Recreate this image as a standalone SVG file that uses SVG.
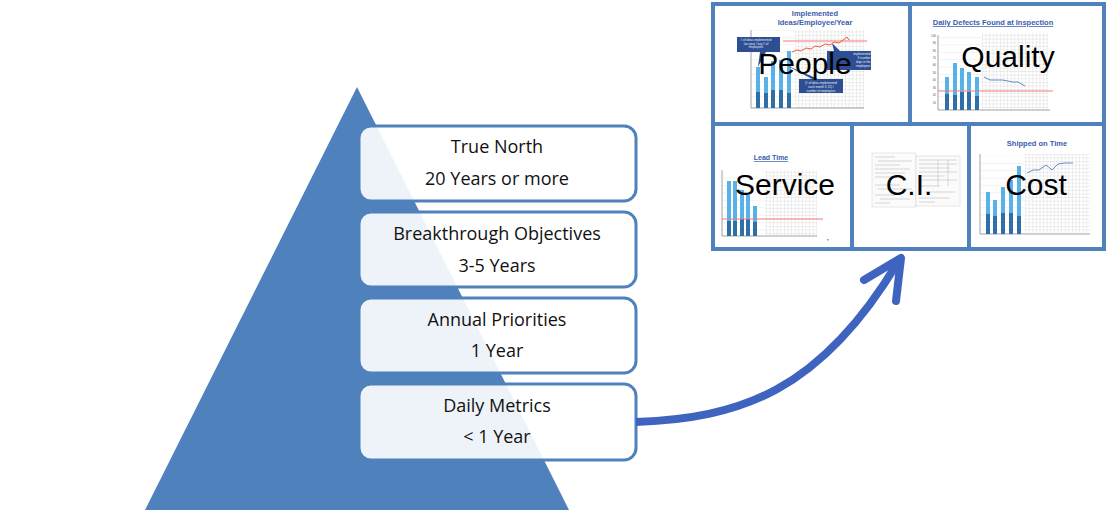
<svg xmlns="http://www.w3.org/2000/svg" width="1107" height="514" viewBox="0 0 1107 514">
<defs>
<pattern id="grid" width="3.6" height="3.6" patternUnits="userSpaceOnUse">
<path d="M3.6 0V3.6M0 3.6H3.6" fill="none" stroke="#c9c9c9" stroke-width="0.6"/>
</pattern>
<pattern id="hgrid" width="10" height="7.4" patternUnits="userSpaceOnUse">
<path d="M0 0H10" fill="none" stroke="#d4d4d4" stroke-width="0.6"/>
</pattern>
</defs>
<style>
.box{fill:#ffffff;fill-opacity:0.9;stroke:#4F81BD;stroke-width:3}
.lbl{font-family:"Open Sans","Liberation Sans",sans-serif;font-size:18px;fill:#111;text-anchor:middle}
.big{font-family:"Liberation Sans",Arial,sans-serif;font-size:30px;fill:#000;text-anchor:middle}
.ttl{font-family:"Liberation Sans",Arial,sans-serif;font-weight:bold;fill:#3A5CAD;text-anchor:middle}
.bar{fill:#58B2EA}
.dk{fill:#2F6EA6}
.ax{stroke:#8a8a8a;stroke-width:0.8;fill:none}
.red{stroke:#F07A7A;stroke-width:1.2;fill:none}
.trend{stroke:#4F7FC0;stroke-width:0.9;fill:none}
.call{fill:#2D4E92}
.ctx{font-family:"Liberation Sans",Arial,sans-serif;font-size:3px;fill:#e8eef8;text-anchor:middle}
.ctxr{font-family:"Liberation Sans",Arial,sans-serif;font-size:3px;fill:#e8eef8;text-anchor:end}
.tick{font-family:"Liberation Sans",Arial,sans-serif;font-size:3px;fill:#555;text-anchor:end}
.frame{stroke:#4F81BD;stroke-width:4;fill:none}
.form{stroke:#bdbdbd;stroke-width:0.6;fill:none}
</style>

<g id="pyramid">
<polygon points="357,87 145,510 569,510" fill="#4F81BD"/>
</g>

<g id="level-true-north">
<rect class="box" x="359" y="126" width="277" height="75" rx="12"/>
<text class="lbl" x="497" y="153">True North</text>
<text class="lbl" x="497" y="185">20 Years or more</text>
</g>
<g id="level-breakthrough">
<rect class="box" x="359" y="212" width="277" height="75" rx="12"/>
<text class="lbl" x="497" y="240">Breakthrough Objectives</text>
<text class="lbl" x="497" y="272">3-5 Years</text>
</g>
<g id="level-annual">
<rect class="box" x="359" y="298" width="277" height="75" rx="12"/>
<text class="lbl" x="497" y="326">Annual Priorities</text>
<text class="lbl" x="497" y="357">1 Year</text>
</g>
<g id="level-daily">
<rect class="box" x="359" y="384" width="277" height="76" rx="12"/>
<text class="lbl" x="497" y="412">Daily Metrics</text>
<text class="lbl" x="497" y="443">&lt; 1 Year</text>
</g>

<g id="connectors">
<path d="M636 422 C 740 418 820 392 898 262" fill="none" stroke="#3F64BF" stroke-width="8"/>
<path d="M864 280 L901 258 L896 301" fill="none" stroke="#3F64BF" stroke-width="8" stroke-linecap="round" stroke-linejoin="round"/>
</g>

<g id="dashboard">
<rect x="713" y="4" width="391" height="245" fill="#ffffff"/>

<g id="panel-people">
<text class="ttl" x="815" y="16" font-size="7.5">Implemented</text>
<text class="ttl" x="815" y="25" font-size="7.5">Ideas/Employee/Year</text>
<rect x="795" y="30" width="69" height="78" fill="url(#grid)"/>
<rect x="751" y="30" width="44" height="78" fill="url(#hgrid)"/>
<path class="ax" d="M751 30V108H864"/>
<rect class="bar" x="756" y="67" width="4" height="41"/>
<rect class="bar" x="764" y="77" width="4" height="31"/>
<rect class="bar" x="771" y="61" width="4" height="47"/>
<rect class="bar" x="779" y="60" width="4" height="48"/>
<rect class="bar" x="787" y="51" width="4" height="57"/>
<rect class="dk" x="756" y="92" width="4" height="16"/>
<rect class="dk" x="764" y="93" width="4" height="15"/>
<rect class="dk" x="771" y="90" width="4" height="18"/>
<rect class="dk" x="779" y="90" width="4" height="18"/>
<rect class="dk" x="787" y="93" width="4" height="15"/>
<path class="red" d="M783 41H867"/>
<polyline fill="none" stroke="#F04A2A" stroke-width="0.9" points="792,52 797,50 801,51 806,48 811,49 815,46 820,47 825,44 830,45 834,42 839,43 843,40 847,37 849,40"/>
<polygon class="call" points="737,37 780,37 780,52 766,52 758,67 760,52 737,52"/>
<text class="ctx" x="756" y="41"># of ideas implemented</text>
<text class="ctx" x="756" y="44.5">last year / avg # of</text>
<text class="ctx" x="756" y="48">employees</text>
<polygon class="call" points="799,79 812,79 786,65 818,79 843,79 843,93 799,93"/>
<text class="ctx" x="821" y="84">(# of ideas implemented</text>
<text class="ctx" x="821" y="88">each month X 12) /</text>
<text class="ctx" x="821" y="92">number of employees</text>
<polygon class="call" points="827,51 834,51 832,43 840,51 871,51 871,70 827,70"/>
<text class="ctxr" x="870.5" y="55">implemented</text>
<text class="ctxr" x="870.5" y="59">X number</text>
<text class="ctxr" x="870.5" y="63">days in the</text>
<text class="ctxr" x="870.5" y="67">employees</text>
<text class="big" x="805" y="74" font-size="28">People</text>
</g>

<g id="panel-quality">
<text class="ttl" x="993" y="25" font-size="7.5" text-decoration="underline">Daily Defects Found at Inspection</text>
<rect x="982" y="33" width="66" height="77" fill="url(#grid)"/>
<rect x="938" y="36" width="44" height="74" fill="url(#hgrid)"/>
<path class="ax" d="M938 35V110H1050"/>
<text class="tick" x="936" y="37">100</text><text class="tick" x="936" y="44">90</text><text class="tick" x="936" y="52">80</text><text class="tick" x="936" y="59">70</text><text class="tick" x="936" y="66">60</text><text class="tick" x="936" y="74">50</text><text class="tick" x="936" y="81">40</text><text class="tick" x="936" y="89">30</text><text class="tick" x="936" y="96">20</text><text class="tick" x="936" y="104">10</text>
<rect class="bar" x="945" y="77" width="4" height="33"/>
<rect class="bar" x="953" y="63" width="4" height="47"/>
<rect class="bar" x="960" y="68" width="4" height="42"/>
<rect class="bar" x="967" y="72" width="4" height="38"/>
<rect class="bar" x="975" y="77" width="4" height="33"/>
<rect class="dk" x="945" y="94" width="4" height="16"/>
<rect class="dk" x="953" y="95" width="4" height="15"/>
<rect class="dk" x="960" y="92" width="4" height="18"/>
<rect class="dk" x="967" y="92" width="4" height="18"/>
<rect class="dk" x="975" y="96" width="4" height="14"/>
<path class="red" d="M938 91H1053"/>
<polyline class="trend" points="984,77 990,80 996,80 1002,80 1008,81 1013,82 1018,82 1025,86"/>
<text class="big" x="1008" y="67">Quality</text>
</g>

<g id="panel-service">
<text class="ttl" x="771" y="160" font-size="7" text-decoration="underline">Lead Time</text>
<rect x="765" y="170" width="52" height="66" fill="url(#grid)"/>
<rect x="722" y="172" width="43" height="64" fill="url(#hgrid)"/>
<path class="ax" d="M722 170V236H817"/>
<rect class="bar" x="727" y="181" width="4" height="55"/>
<rect class="bar" x="733" y="181" width="4" height="55"/>
<rect class="bar" x="740" y="190" width="4" height="46"/>
<rect class="bar" x="746" y="195" width="4" height="41"/>
<rect class="bar" x="753" y="206" width="4" height="30"/>
<rect class="dk" x="727" y="221" width="4" height="15"/>
<rect class="dk" x="733" y="221" width="4" height="15"/>
<rect class="dk" x="740" y="219" width="4" height="17"/>
<rect class="dk" x="746" y="219" width="4" height="17"/>
<rect class="dk" x="753" y="222" width="4" height="14"/>
<path class="red" d="M722 219H823"/>
<rect x="827" y="239" width="1.5" height="1.5" fill="#6f8fc8"/>
<text class="big" x="785" y="195">Service</text>
</g>

<g id="panel-ci">
<rect x="872" y="153" width="44" height="54" fill="#fbfbfb" stroke="#d0d0d0" stroke-width="0.5"/>
<rect x="916" y="156" width="44" height="50" fill="#fbfbfb" stroke="#d0d0d0" stroke-width="0.5"/>
<path class="form" d="M875 157H895M878 161H912M875 165H900M875 169H910M875 173H905M875 177H898M875 185H900M878 189H912M875 195H895M880 199H910M875 203H890M919 160H957M919 164H957M919 168H950M919 172H957M919 176H945M919 180H957M919 186H940M925 192H955M919 198H950M919 202H935M938 160V186M948 160V186"/>
<text class="big" x="909" y="195">C.I.</text>
</g>

<g id="panel-cost">
<text class="ttl" x="1037" y="146" font-size="7.5">Shipped on Time</text>
<rect x="1025" y="154" width="65" height="79" fill="url(#grid)"/>
<rect x="980" y="156" width="45" height="78" fill="url(#hgrid)"/>
<path class="ax" d="M980 154V234H1090"/>
<rect class="bar" x="986" y="192" width="4" height="42"/>
<rect class="bar" x="993" y="200" width="4" height="34"/>
<rect class="bar" x="1001" y="187" width="4" height="47"/>
<rect class="bar" x="1009" y="180" width="4" height="54"/>
<rect class="bar" x="1017" y="166" width="4" height="68"/>
<rect class="dk" x="986" y="214" width="4" height="20"/>
<rect class="dk" x="993" y="216" width="4" height="18"/>
<rect class="dk" x="1001" y="213" width="4" height="21"/>
<rect class="dk" x="1009" y="213" width="4" height="21"/>
<rect class="dk" x="1017" y="216" width="4" height="18"/>
<polyline class="trend" points="1027,173 1033,170 1039,170 1046,165 1052,170 1058,164 1064,163 1073,163"/>
<text class="big" x="1036" y="195">Cost</text>
</g>

<path class="frame" d="M713 4H1104V249H713Z M713 124H1104 M910 4V124 M852 124V249 M969 124V249"/>
</g>
</svg>
